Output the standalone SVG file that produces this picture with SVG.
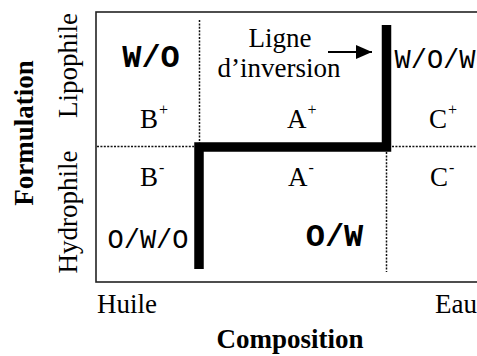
<svg xmlns="http://www.w3.org/2000/svg" width="477" height="356" viewBox="0 0 477 356">
<defs>
<style>
.t{font-family:"Liberation Serif","Times New Roman",serif;font-size:27px;fill:#000}
.b{font-weight:bold}
.m{font-family:"Liberation Mono","Courier New",monospace;font-size:27px;fill:#000}
.mb{font-family:"Liberation Mono","Courier New",monospace;font-size:32px;font-weight:bold;fill:#000}
.sup{font-size:16px}
.dot{stroke:#111;stroke-width:1.5;stroke-dasharray:2 1.4;fill:none}
</style>
<marker id="ah" markerWidth="16" markerHeight="14" refX="16" refY="7" orient="auto" markerUnits="userSpaceOnUse" viewBox="0 0 16 14">
<path d="M0,0 L16,7 L0,14 Z" fill="#000"/>
</marker>
</defs>
<rect width="477" height="356" fill="#fff"/>
<g id="frame">
<rect x="96" y="12" width="400" height="270" fill="none" stroke="#222" stroke-width="1.6"/>
</g>
<g id="axis-labels">
<text class="t b" text-anchor="middle" transform="translate(33,133) rotate(-90)">Formulation</text>
<text class="t" text-anchor="middle" transform="translate(77,65.5) rotate(-90)">Lipophile</text>
<text class="t" text-anchor="middle" transform="translate(77,212) rotate(-90)">Hydrophile</text>
<text class="t" x="97" y="313">Huile</text>
<text class="t" x="435" y="313">Eau</text>
<text class="t b" x="290" y="348" text-anchor="middle">Composition</text>
</g>
<g id="connectors">
<line class="dot" x1="199.5" y1="20" x2="199.5" y2="143"/>
<line class="dot" x1="97" y1="146.5" x2="194" y2="146.5"/>
<line class="dot" x1="392" y1="146.5" x2="477" y2="146.5"/>
<line class="dot" x1="386.5" y1="152" x2="386.5" y2="272"/>
<polyline id="inversion-line" points="199,269 199,147 386.5,147 386.5,25" fill="none" stroke="#000" stroke-width="9.5" stroke-linejoin="miter" stroke-linecap="butt"/>
<line x1="328" y1="52" x2="372" y2="52" stroke="#000" stroke-width="2" marker-end="url(#ah)"/>
</g>
<g id="label-inversion">
<text class="t" x="280" y="47" text-anchor="middle">Ligne</text>
<text class="t" x="279" y="77" text-anchor="middle">d’inversion</text>
</g>
<g id="cell-B-plus">
<text class="mb" x="151" y="67" text-anchor="middle">W/O</text>
<text class="t" x="140" y="128">B<tspan class="sup" dx="1" dy="-13">+</tspan></text>
</g>
<g id="cell-A-plus">
<text class="t" x="287" y="128">A<tspan class="sup" dx="1" dy="-13">+</tspan></text>
</g>
<g id="cell-C-plus">
<text class="m" x="435" y="68" text-anchor="middle">W/O/W</text>
<text class="t" x="429" y="128">C<tspan class="sup" dx="1" dy="-13">+</tspan></text>
</g>
<g id="cell-B-minus">
<text class="t" x="140" y="186">B<tspan class="sup" dx="1" dy="-13">-</tspan></text>
<text class="m" x="148" y="248" text-anchor="middle">O/W/O</text>
</g>
<g id="cell-A-minus">
<text class="t" x="288" y="186">A<tspan class="sup" dx="1" dy="-13">-</tspan></text>
<text class="mb" x="334.5" y="246" text-anchor="middle">O/W</text>
</g>
<g id="cell-C-minus">
<text class="t" x="430" y="186">C<tspan class="sup" dx="1" dy="-13">-</tspan></text>
</g>
</svg>
